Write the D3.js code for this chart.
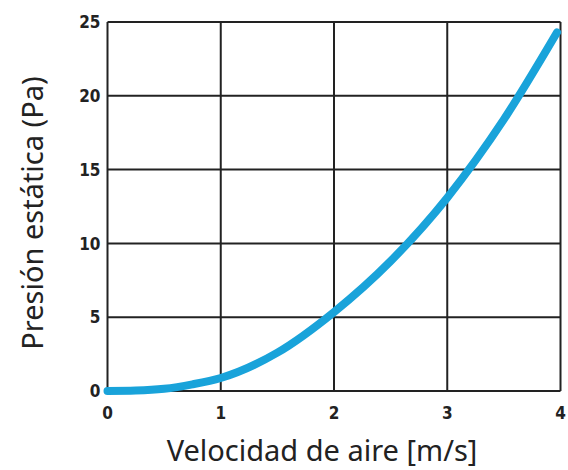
<!DOCTYPE html>
<html><head><meta charset="utf-8">
<script src="https://cdn.jsdelivr.net/npm/d3@7"></script>
<style>body{margin:0;background:#fff}</style>
</head><body>
<svg id="c" width="568" height="470"></svg>
<script>
const velocity = [0, 0.25, 0.5, 0.75, 1, 1.5, 2, 2.5, 3, 3.5, 3.97];
const pressure = [0, 0.03, 0.15, 0.45, 0.88, 2.6, 5.35, 8.8, 13.1, 18.4, 24.3];
const xTicks = [0, 1, 2, 3, 4];
const yTicks = [0, 5, 10, 15, 20, 25];
const xTitle = "Velocidad de aire [m/s]";
const yTitle = "Presión estática (Pa)";

const svg = d3.select("#c");
const m = {l: 107.5, r: 560.5, t: 22, b: 391};
const x = d3.scaleLinear().domain([0, 4]).range([m.l, m.r]);
const y = d3.scaleLinear().domain([0, 25]).range([m.b, m.t]);

const grid = svg.append("g");
grid.selectAll("line.v").data(xTicks).join("line")
  .attr("x1", d => x(d)).attr("x2", d => x(d)).attr("y1", m.t).attr("y2", m.b)
  .attr("stroke", "#222").attr("stroke-width", 2);
grid.selectAll("line.h").data(yTicks).join("line")
  .attr("y1", d => y(d)).attr("y2", d => y(d)).attr("x1", m.l).attr("x2", m.r)
  .attr("stroke", "#222").attr("stroke-width", 2);

const tickFont = "'DejaVu Sans Condensed', 'DejaVu Sans', sans-serif";
svg.append("g").selectAll("text").data(yTicks).join("text")
  .attr("x", m.l - 7).attr("y", d => y(d)).attr("dy", "0.36em")
  .attr("text-anchor", "end").attr("font-family", tickFont).attr("font-weight", "bold")
  .attr("font-stretch", "condensed")
  .attr("font-size", 17).attr("fill", "#222").text(d => d);
svg.append("g").selectAll("text").data(xTicks).join("text")
  .attr("x", d => x(d)).attr("y", m.b + 28)
  .attr("text-anchor", "middle").attr("font-family", tickFont).attr("font-weight", "bold")
  .attr("font-stretch", "condensed")
  .attr("font-size", 17).attr("fill", "#222").text(d => d);

const data = velocity.map((v, i) => [v, pressure[i]]);
svg.append("path").datum(data)
  .attr("d", d3.line().x(d => x(d[0])).y(d => y(d[1])).curve(d3.curveMonotoneX))
  .attr("fill", "none").attr("stroke", "#19a3da").attr("stroke-width", 8)
  .attr("stroke-linecap", "round");

const titleFont = "'Noto Sans', 'Open Sans', sans-serif";
svg.append("text").attr("x", 322).attr("y", 461).attr("text-anchor", "middle")
  .attr("font-family", titleFont).attr("font-size", 29).attr("fill", "#222").text(xTitle);
svg.append("text").attr("transform", "translate(43,213) rotate(-90)").attr("text-anchor", "middle")
  .attr("font-family", titleFont).attr("font-size", 29).attr("fill", "#222").text(yTitle);
</script>
</body></html>
